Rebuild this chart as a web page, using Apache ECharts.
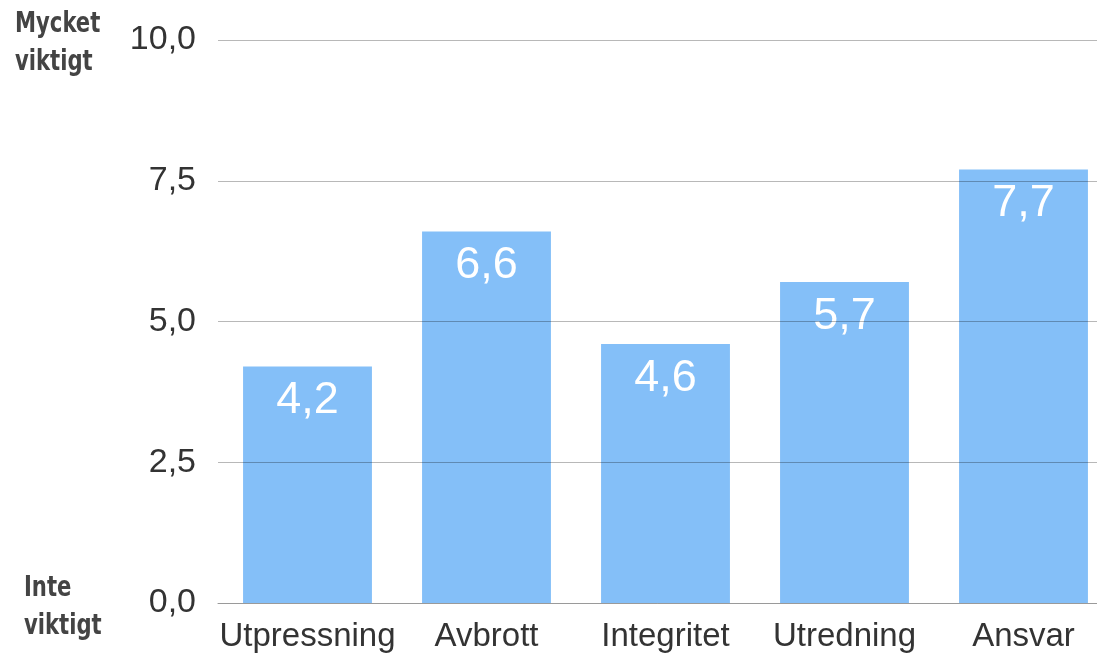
<!DOCTYPE html>
<html>
<head>
<meta charset="utf-8">
<script src="https://cdn.jsdelivr.net/npm/echarts@6/dist/echarts.min.js"></script>
<style>
html,body{margin:0;padding:0;background:#fff;}
#chart{width:1097px;height:655px;}
</style>
</head>
<body>
<div id="chart"></div>
<script>
const categories = ["Utpressning", "Avbrott", "Integritet", "Utredning", "Ansvar"];
const values = [4.2, 6.6, 4.6, 5.7, 7.7];
const yTicks = [0, 2.5, 5, 7.5, 10];
const topLabel = ["Mycket", "viktigt"];
const bottomLabel = ["Inte", "viktigt"];

const fmt = v => v.toFixed(1).replace('.', ',');

const chart = echarts.init(document.getElementById('chart'));
chart.setOption({
  animation: false,
  backgroundColor: '#ffffff',
  grid: { left: 218, top: 40, width: 895, bottom: 52, containLabel: false, outerBoundsMode: 'none' },
  xAxis: {
    type: 'category',
    data: categories,
    axisTick: { show: false },
    axisLine: { lineStyle: { color: '#9a9a9a', width: 1 } },
    axisLabel: { color: '#333', fontSize: 33, fontFamily: 'Liberation Sans', margin: 17, interval: 0 },
    z: 3
  },
  yAxis: {
    type: 'value',
    min: yTicks[0],
    max: yTicks[yTicks.length - 1],
    interval: yTicks[1] - yTicks[0],
    axisLine: { show: false },
    axisTick: { show: false },
    axisLabel: { color: '#333', fontSize: 34, fontFamily: 'Liberation Sans', margin: 22, formatter: v => fmt(v) },
    splitLine: { lineStyle: { color: 'rgba(0,0,0,0.28)', width: 1 } },
    z: 3
  },
  series: [{
    type: 'bar',
    data: values,
    barWidth: '72%',
    itemStyle: { color: '#84BFF8' },
    label: {
      show: true,
      position: 'insideTop',
      distance: 12,
      color: '#ffffff',
      fontSize: 45,
      fontFamily: 'Liberation Sans',
      formatter: p => fmt(p.value)
    },
    z: 2
  }],
  graphic: [
    { type: 'text', left: 15, top: 6, scaleX: 0.84, style: { text: topLabel.join('\n'), font: 'bold 28px "DejaVu Sans Condensed", sans-serif', fill: '#444', lineHeight: 38 } },
    { type: 'text', left: 24, top: 570, scaleX: 0.84, style: { text: bottomLabel.join('\n'), font: 'bold 28px "DejaVu Sans Condensed", sans-serif', fill: '#444', lineHeight: 38 } }
  ]
});
</script>
</body>
</html>
